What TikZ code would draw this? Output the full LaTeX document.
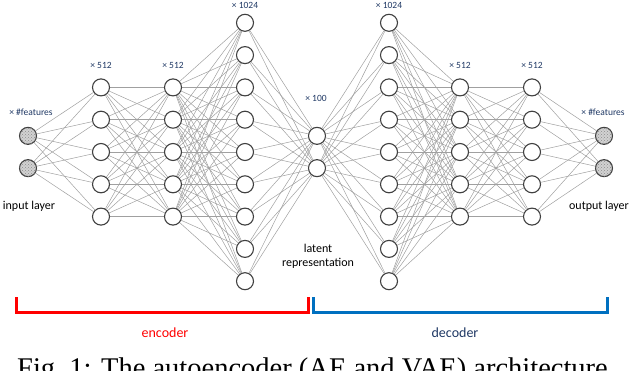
\documentclass[tikz,border=0pt]{standalone}
\usepackage{fontspec}
\setmainfont{Carlito}
\newfontfamily\capfont{Liberation Serif}
\usetikzlibrary{patterns,backgrounds}

\definecolor{encred}{RGB}{255,0,0}
\definecolor{decblue}{RGB}{0,112,192}
\definecolor{navy}{RGB}{31,56,100}
\definecolor{linkgray}{RGB}{160,160,160}
\definecolor{ringgray}{RGB}{64,64,64}

\begin{document}
\begin{tikzpicture}[x=1pt, y=-1pt,
  neuron/.style={draw=ringgray, line width=1.1pt, circle, minimum size=17pt, inner sep=0pt, fill=white},
  io/.style={neuron, fill=gray!35, postaction={pattern=crosshatch dots, pattern color=gray!90}},
  link/.style={draw=linkgray, line width=0.5pt},
  count/.style={font=\fontsize{9.5}{10}\selectfont, text=navy, inner sep=0pt},
  tag/.style={font=\fontsize{12}{14}\selectfont, inner sep=0pt, align=center},
  brace/.style={line width=3pt}]
\useasboundingbox (0,0) rectangle (632,370);

% input and output layers
\foreach \i in {1,2} {
  \node[io] (in\i) at (28, {152+(\i-1.5)*32.3}) {};
  \node[io] (out\i) at (604, {152+(\i-1.5)*32.3}) {};
}
% hidden layers
\foreach \name/\x/\n in {encA/101/5, encB/173/5, encC/245/9, lat/317/2, decC/389/9, decB/460/5, decA/532/5}
  \foreach \i in {1,...,\n}
    \node[neuron] (\name\i) at (\x, {152+(\i-(\n+1)/2)*32.3}) {};

% fully connected
\begin{scope}[on background layer]
\foreach \a/\na/\b/\nb in {in/2/encA/5, encA/5/encB/5, encB/5/encC/9, encC/9/lat/2, lat/2/decC/9, decC/9/decB/5, decB/5/decA/5, decA/5/out/2}
  \foreach \i in {1,...,\na}
    \foreach \j in {1,...,\nb}
      \draw[link] (\a\i) -- (\b\j);
\end{scope}

% layer sizes
\node[count] (cntIn) at (31,112) {× \#features};
\node[count] (cntEncA) at (101,65) {× 512};
\node[count] (cntEncB) at (173,65) {× 512};
\node[count] (cntEncC) at (245,5) {× 1024};
\node[count] (cntLat) at (316,98) {× 100};
\node[count] (cntDecC) at (389,5) {× 1024};
\node[count] (cntDecB) at (460,65) {× 512};
\node[count] (cntDecA) at (532,65) {× 512};
\node[count] (cntOut) at (603,112) {× \#features};

\node[tag] (inTag) at (29,206) {input layer};
\node[tag] (outTag) at (599,206) {output layer};
\node[tag] (latTag) at (318,256) {latent\\representation};

% encoder / decoder brackets
\draw[brace, encred] (16,297) |- (308,312) -- (308,297);
\draw[brace, decblue] (313,297) |- (607,312) -- (607,297);
\node[tag, text=encred, font=\fontsize{14}{15}\selectfont] (encTag) at (165,333) {encoder};
\node[tag, text=navy, font=\fontsize{14}{15}\selectfont] (decTag) at (455,333) {decoder};

\node[anchor=base west, inner sep=0pt, font=\capfont\fontsize{28.5}{30}\selectfont] (caption) at (17,377) {Fig.~1: The autoencoder (AE and VAE) architecture};
\end{tikzpicture}
\end{document}
